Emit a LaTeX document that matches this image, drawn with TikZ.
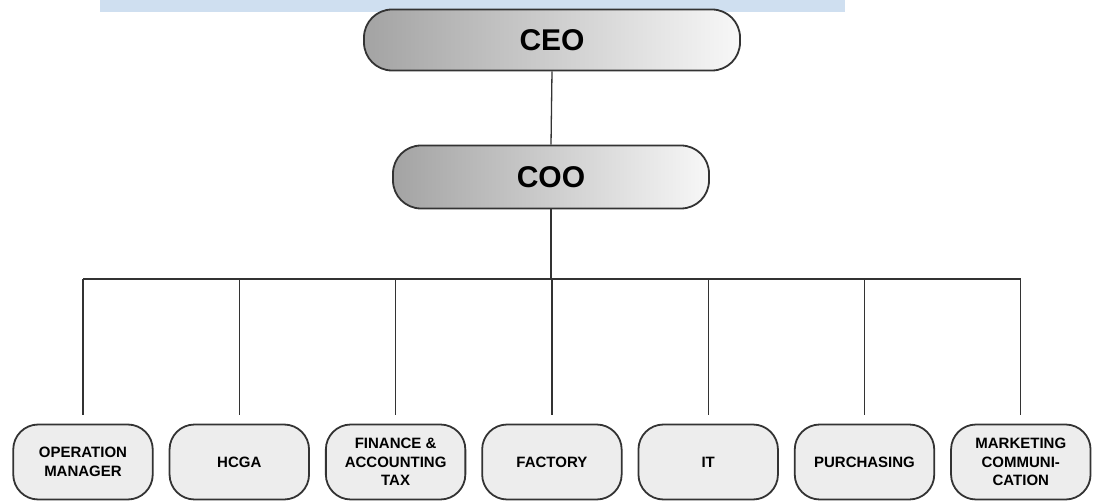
\documentclass[tikz,border=0pt]{standalone}
\usepackage{fontspec}
\setmainfont{Liberation Sans}
\usepackage{tikz}
\usetikzlibrary{positioning}

\definecolor{barblue}{HTML}{CFDFF0}
\definecolor{boxline}{HTML}{333333}

\begin{document}
\begin{tikzpicture}[
				x=1pt, y=-1pt,
				node distance = 16pt and 15pt,
				topbox/.style = {draw=boxline, line width=1.8pt, rounded corners=28pt, minimum width=376pt, minimum height=61pt, left color=black!36, right color=black!3, font=\bfseries\fontsize{30}{34}\selectfont},
				unit/.style = {draw=boxline, line width=1.8pt, rounded corners=25pt, minimum width=139.5pt, minimum height=75pt, fill=black!7, align=center, inner sep=2pt, font=\bfseries\fontsize{15}{18.5}\selectfont},
				line/.style = {draw=boxline, line width=1.3pt}
			]
			\useasboundingbox (0,0) rectangle (1095,502);
			% Banda superior
			\fill [barblue] (100,0) rectangle (845,12);

			% Nodos
			\node [topbox] (ceo) at (552,40) {CEO};
			\node [topbox, minimum width=316pt, minimum height=63pt] (coo) at (551,177) {COO};
			\node [unit] (opman) at (83,462) {OPERATION\\MANAGER};
			\node [unit, right=of opman] (hcga) {HCGA};
			\node [unit, right=of hcga] (finance) {FINANCE \&\\ACCOUNTING\\TAX};
			\node [unit, right=of finance] (factory) {FACTORY};
			\node [unit, right=of factory] (itdept) {IT};
			\node [unit, right=of itdept] (purchasing) {PURCHASING};
			\node [unit, right=of purchasing] (marcom) {MARKETING\\COMMUNI-\\CATION};
			\coordinate (bus) at (0,279);

			% Líneas
			\draw [line] (ceo.south) -- (coo.north);
			\draw [line] (coo.south) -- (coo.south |- bus);
			\draw [line] (opman.north |- bus) -- (marcom.north |- bus);
			\foreach \n in {opman,hcga,finance,factory,itdept,purchasing,marcom}
				\draw [line] (\n.north |- bus) -- ([yshift=9pt]\n.north);
		\end{tikzpicture}
\end{document}
